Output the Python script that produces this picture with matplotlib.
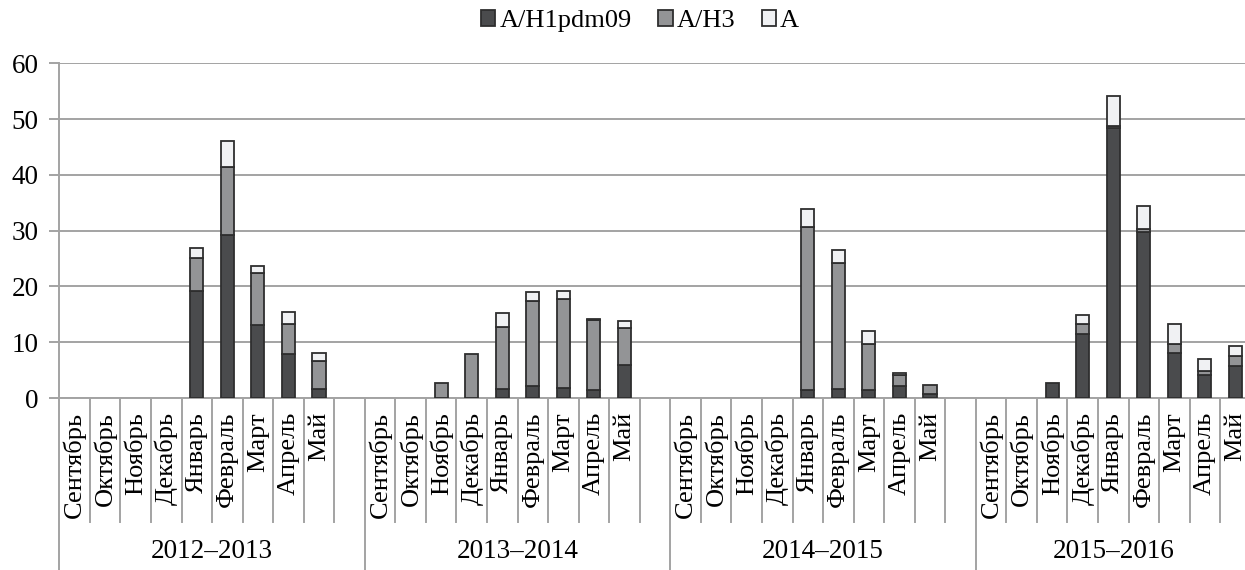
import numpy as np
import matplotlib
matplotlib.use("Agg")
import matplotlib.pyplot as plt
import matplotlib.transforms as mtransforms
from matplotlib.patches import Patch

plt.rcParams['font.family'] = ['Liberation Serif', 'DejaVu Serif']

months = ["Сентябрь", "Октябрь", "Ноябрь", "Декабрь", "Январь",
          "Февраль", "Март", "Апрель", "Май"]
seasons = ["2012–2013", "2013–2014", "2014–2015", "2015–2016"]
series_names = ["A/H1pdm09", "A/H3", "A"]

# Sep..May for each season
h1pdm09 = [
    [0, 0, 0, 0, 19.2, 29.3, 13.0, 7.8, 1.7],
    [0, 0, 0, 0, 1.6, 2.1, 1.8, 1.4, 6.0],
    [0, 0, 0, 0, 1.4, 1.7, 1.4, 2.1, 0.7],
    [0, 0, 2.7, 11.5, 48.4, 29.8, 8.0, 4.2, 5.7],
]
h3 = [
    [0, 0, 0, 0, 5.9, 12.1, 9.4, 5.5, 4.9],
    [0, 0, 2.75, 7.8, 11.1, 15.3, 16.0, 12.5, 6.6],
    [0, 0, 0, 0, 29.3, 22.5, 8.3, 2.0, 1.6],
    [0, 0, 0, 1.8, 0.3, 0.5, 1.7, 0.6, 1.8],
]
a_untyped = [
    [0, 0, 0, 0, 1.8, 4.7, 1.3, 2.2, 1.5],
    [0, 0, 0, 0, 2.5, 1.6, 1.4, 0.2, 1.2],
    [0, 0, 0, 0, 3.2, 2.4, 2.3, 0.3, 0],
    [0, 0, 0, 1.6, 5.5, 4.1, 3.5, 2.2, 1.9],
]

colors = ["#4a4b4d", "#939496", "#f0f1f3"]
edge = "#2e2e2e"
grid_c = "#a3a3a3"

fig = plt.figure(figsize=(12.45, 5.70), dpi=100)
slot_px = 30.55
ax = fig.add_axes([59.3 / 1245, 1 - 398 / 570, 39 * slot_px / 1245, (398 - 63.3) / 570])

# each season takes 10 slots (9 months + gap)
xs = []
for s in range(len(seasons)):
    xs.append(np.arange(len(months)) + 10 * s)

for s in range(len(seasons)):
    bottom = np.zeros(len(months))
    for vals, c in zip([h1pdm09[s], h3[s], a_untyped[s]], colors):
        v = np.array(vals, dtype=float)
        m = v > 0
        ax.bar(xs[s][m], v[m], width=0.43, bottom=bottom[m], color=c,
               edgecolor=edge, linewidth=1.3, zorder=3)
        bottom += v

ax.set_xlim(-0.5, 38.5)
ax.set_ylim(0, 60)
ax.set_yticks(range(0, 61, 10))
ax.yaxis.grid(True, color=grid_c, linewidth=1.4, zorder=0)
ax.set_axisbelow(True)
ax.tick_params(axis='y', length=7, width=1.4, color=grid_c, pad=8, labelsize=19.5)
ax.tick_params(axis='x', bottom=False, labelbottom=False)
for side in ["top", "right"]:
    ax.spines[side].set_visible(False)
for side in ["left", "bottom"]:
    ax.spines[side].set_color(grid_c)
    ax.spines[side].set_linewidth(1.4)

# two-level category axis below the plot
trans = mtransforms.blended_transform_factory(ax.transData, fig.transFigure)
y_axis = 1 - 398 / 570
y_sep = 1 - 522 / 570
for s in range(len(seasons)):
    x0 = 10 * s - 0.5
    for i, name in enumerate(months):
        ax.text(xs[s][i], 1 - 412 / 570, name, transform=trans, rotation=90,
                ha='center', va='top', fontsize=19)
    n_slots = 10 if s < len(seasons) - 1 else len(months)
    for k in range(1, n_slots):
        ax.plot([x0 + k, x0 + k], [y_axis, y_sep], transform=trans, color=grid_c,
                linewidth=1.4, clip_on=False)
    ax.plot([x0, x0], [y_axis, 0], transform=trans, color=grid_c,
            linewidth=1.4, clip_on=False)
    ax.text(x0 + n_slots / 2, 1 - 552 / 570, seasons[s], transform=trans,
            ha='center', va='center', fontsize=19.5)

handles = [Patch(facecolor=c, edgecolor=edge, linewidth=1.3) for c in colors]
fig.legend(handles, series_names, loc='center', bbox_to_anchor=(640 / 1245, 1 - 21 / 570),
           ncol=3, frameon=False, fontsize=19, handlelength=0.55, handleheight=0.55,
           handletextpad=0.15, columnspacing=1.0)

fig.savefig("out.png", dpi=100)
